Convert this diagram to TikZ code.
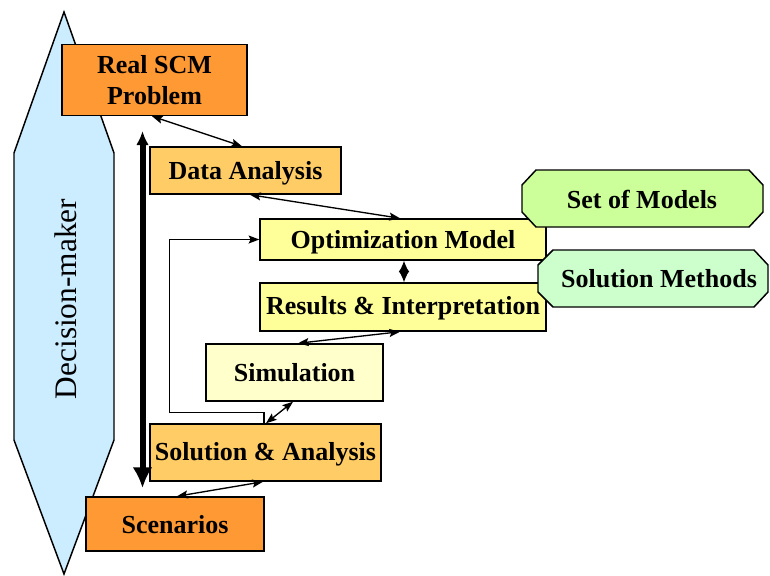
\documentclass[tikz,border=0pt]{standalone}
\usepackage{fontspec}
\setmainfont{Liberation Serif}
\usetikzlibrary{arrows.meta,calc}
\definecolor{cOrange}{HTML}{FF9933}
\definecolor{cLOrange}{HTML}{FFCC66}
\definecolor{cYellow}{HTML}{FFFF99}
\definecolor{cPale}{HTML}{FFFFCC}
\definecolor{cGreen}{HTML}{CCFF99}
\definecolor{cLGreen}{HTML}{CCFFCC}
\definecolor{cBlue}{HTML}{CCECFF}
\begin{document}
\begin{tikzpicture}[x=0.75pt,y=-0.75pt,
  box/.style={draw=black, line width=1.1pt, inner sep=0pt, align=center,
    font=\fontsize{19.5}{23.25}\selectfont\bfseries},
  oneline/.style={text height=13.5pt, text depth=#1},
  sz/.style 2 args={minimum width=#1*0.75pt, minimum height=#2*0.75pt},
  lbl/.style={inner sep=0pt, font=\fontsize{19.5}{23.25}\selectfont\bfseries},
  shapeline/.style={draw=black, line width=1.1pt},
  link/.style={line width=1pt, {Stealth[length=8pt,width=6pt,inset=1.5pt]}-{Stealth[length=8pt,width=6pt,inset=1.5pt]}},
  diam/.style={line width=1pt, {Latex[length=8.5pt,width=8pt]}-{Latex[length=8.5pt,width=8pt]}},
  feed/.style={line width=1pt, -{Stealth[length=8pt,width=6pt,inset=1.5pt]}},
  big/.style={line width=4.5pt, {Latex[length=10.5pt,width=9.5pt]}-{Latex[length=15.5pt,width=15pt]}}
]
\useasboundingbox (0,0) rectangle (770,575);

% Decision-maker
\filldraw[shapeline, fill=cBlue] (64,12) -- (114,153) -- (114,440) -- (64,574) -- (14,440) -- (14,153) -- cycle;
\node[inner sep=0pt, rotate=90, font=\fontsize{23.5}{27}\selectfont] (dm) at (66,299) {Decision-maker};

% boxes
\node[box, sz={185}{71}, fill=cOrange] (real) at (154.5,80) {Real SCM\\Problem};
\node[box, oneline=-3pt, sz={191}{47}, fill=cLOrange] (data) at (245.5,170.5) {Data Analysis};
\node[box, oneline=0.75pt, sz={286}{41}, fill=cYellow] (opt) at (403,239.5) {Optimization Model};
\node[box, oneline=2.5pt, sz={286}{48}, fill=cYellow] (res) at (403,307) {Results \& Interpretation};
\node[box, oneline=-2.25pt, sz={177}{57}, fill=cPale] (sim) at (294.5,372.5) {Simulation};
\node[box, oneline=2pt, sz={231}{57}, fill=cLOrange] (sol) at (265.5,452.5) {Solution \& Analysis};
\node[box, oneline=0pt, sz={178}{54}, fill=cOrange] (scen) at (175,524) {Scenarios};

% chamfered boxes
\filldraw[shapeline, fill=cGreen] (536,170) -- (749,170) -- (763,185) -- (763,212) -- (749,227) -- (536,227) -- (522,212) -- (522,185) -- cycle;
\node[lbl] (models) at (642,199.5) {Set of Models};
\filldraw[shapeline, fill=cLGreen] (553,250) -- (754,250) -- (768,265) -- (768,292) -- (754,307) -- (553,307) -- (538,292) -- (538,265) -- cycle;
\node[lbl] (methods) at (659,279) {Solution Methods};

% connectors
\draw[link] ($(real.south)+(-2.5,0)$) -- ($(data.north)+(-3.5,0)$);
\draw[link] ($(data.south)+(4.5,0)$) -- ($(opt.north)+(-3,0)$);
\draw[diam] ($(opt.south)+(1,0)$) -- ($(res.north)+(1,0)$);
\draw[link] ($(res.south)+(-3,0)$) -- ($(sim.north)+(3.5,0)$);
\draw[link] ($(sim.south)+(-1.5,0)$) -- ($(sol.north)+(0.5,0)$);
\draw[link] ($(sol.south)+(-2.5,0)$) -- ($(scen.north)+(2,0)$);
\draw[feed] ($(sol.north)+(-1.5,0)$) -- ++(0,-11) -| ($(opt.west)+(-90,0)$) -- (opt.west);

% thick arrow
\coordinate (ttop) at (142.5,131);
\coordinate (tbot) at (142.5,488);
\draw[big] (ttop) -- (tbot);
\end{tikzpicture}
\end{document}
